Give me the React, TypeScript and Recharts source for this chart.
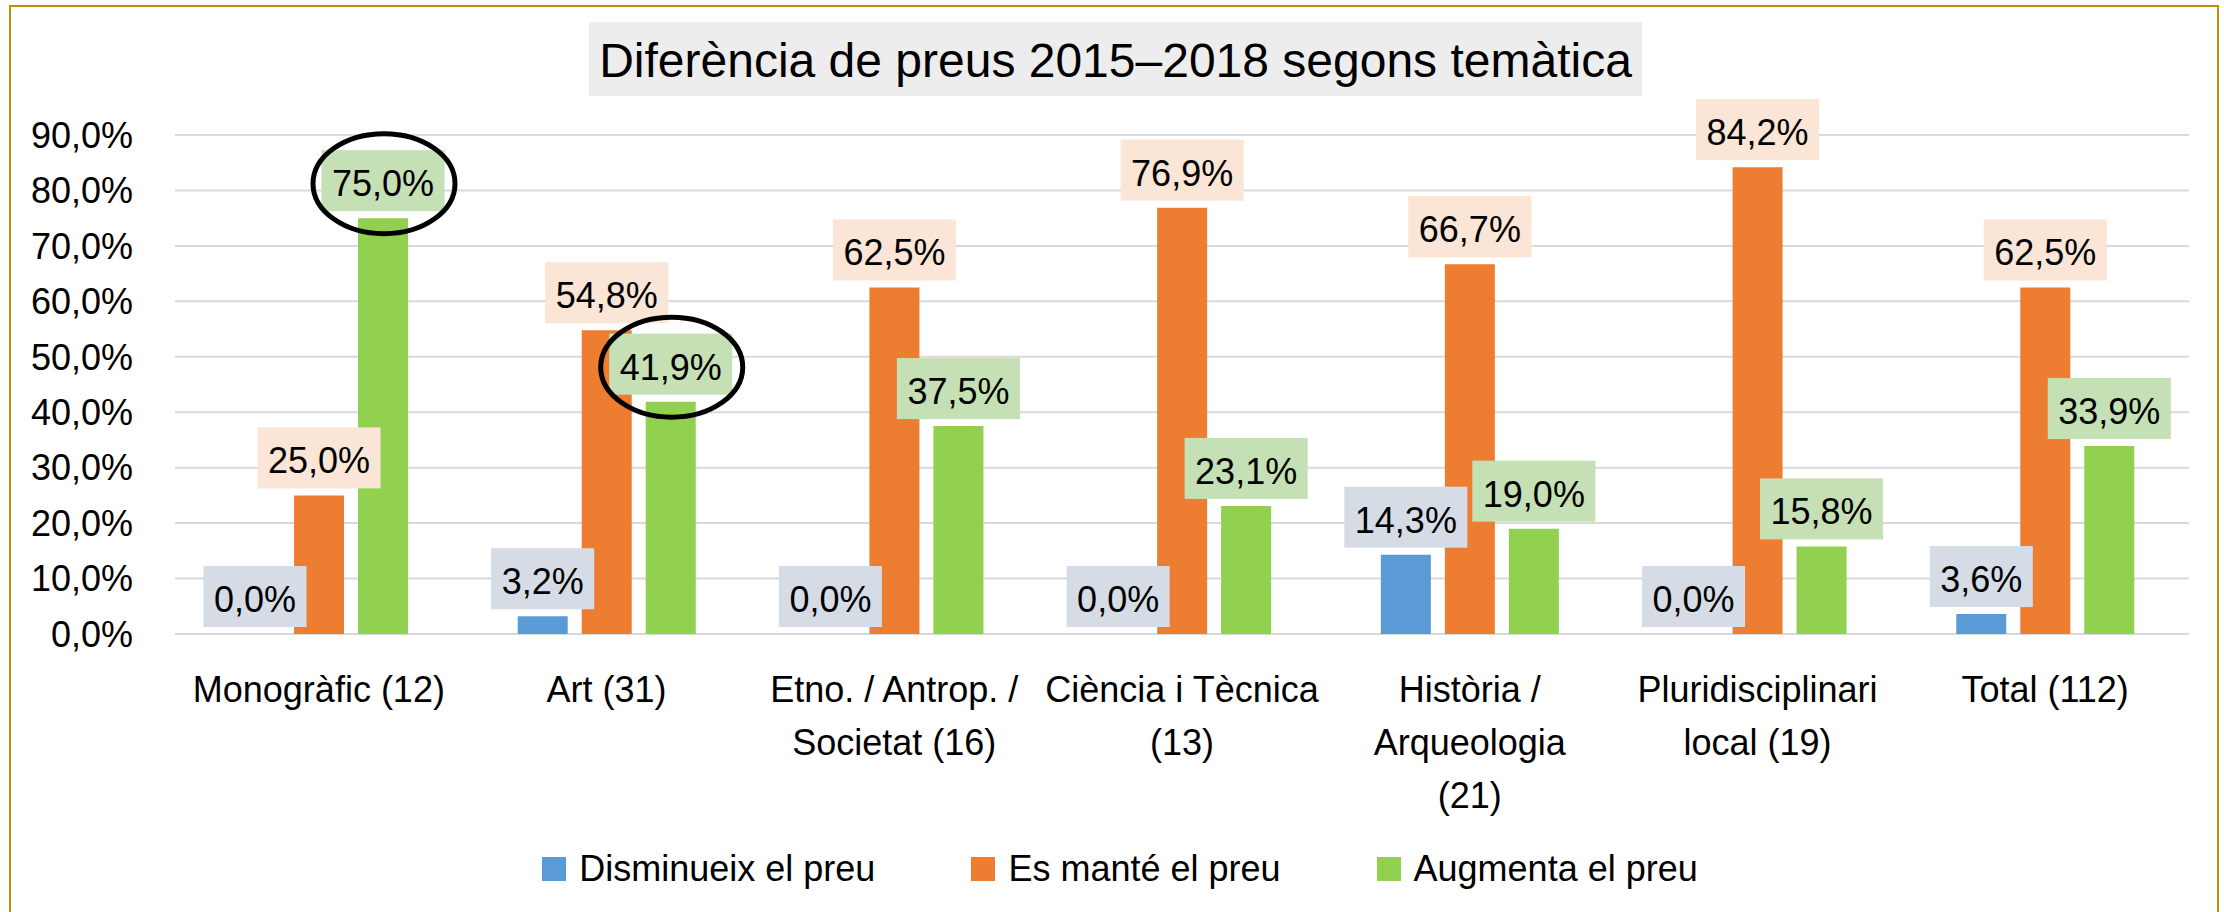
import { BarChart, Bar, XAxis, YAxis, CartesianGrid, Legend, LabelList } from 'recharts'

const FONT = '"Liberation Sans", Arial, sans-serif'

const categories = [
  'Monogràfic (12)',
  'Art (31)',
  'Etno. / Antrop. /\nSocietat (16)',
  'Ciència i Tècnica\n(13)',
  'Història /\nArqueologia\n(21)',
  'Pluridisciplinari\nlocal (19)',
  'Total (112)',
]
const decreases = [0, 3.2, 0, 0, 14.3, 0, 3.6]
const unchanged = [25.0, 54.8, 62.5, 76.9, 66.7, 84.2, 62.5]
const increases = [75.0, 41.9, 37.5, 23.1, 19.0, 15.8, 33.9]
const yTicks = [0, 10, 20, 30, 40, 50, 60, 70, 80, 90]
// labels circled by hand in the original (green series)
const highlighted = ['Monogràfic (12)', 'Art (31)']

const data = categories.map((name, i) => ({
  name,
  decreases: decreases[i],
  unchanged: unchanged[i],
  increases: increases[i],
}))

const series = [
  { key: 'decreases', name: 'Disminueix el preu', color: '#5B9BD5', labelBg: '#D6DCE5' },
  { key: 'unchanged', name: 'Es manté el preu', color: '#ED7D31', labelBg: '#FBE5D6' },
  { key: 'increases', name: 'Augmenta el preu', color: '#92D050', labelBg: '#C5E0B4' },
]

const pct = (v: number) => v.toFixed(1).replace('.', ',') + '%'

const charW: Record<string, number> = { ',': 0.278, '%': 0.889 }
const textWidth = (s: string, size: number) =>
  s.split('').reduce((w, c) => w + (charW[c] ?? 0.556), 0) * size

const CategoryTick = ({ x, y, payload }: any) => {
  const lines = String(payload.value).split('\n')
  return (
    <text x={x} y={y + 68} textAnchor="middle" fill="#000" fontSize={36} fontFamily={FONT}>
      {lines.map((l, i) => (
        <tspan key={i} x={x} dy={i === 0 ? 0 : 53}>{l}</tspan>
      ))}
    </text>
  )
}

const makeLabel = (seriesKey: string, bg: string) => (props: any) => {
  const vb = props.viewBox ?? props
  const value = Number(props.value)
  // zero bars get a 1px min height in the overlay, keep the label on the baseline
  const top = value === 0 ? Math.max(vb.y, vb.y + (vb.height || 0)) : Math.min(vb.y, vb.y + (vb.height || 0))
  const cx = vb.x + vb.width / 2
  const text = pct(value)
  const w = textWidth(text, 36) + 21
  const h = 61
  const bottom = top - 7
  const circled = seriesKey === 'increases' && highlighted.includes(categories[props.index])
  return (
    <g>
      <rect x={cx - w / 2} y={bottom - h} width={w} height={h} fill={bg} />
      <text x={cx} y={bottom - 15} textAnchor="middle" fill="#000" fontSize={36} fontFamily={FONT}>{text}</text>
      {circled && (
        <ellipse cx={cx + 1} cy={bottom - h / 2 + 3} rx={71} ry={50} fill="none" stroke="#000" strokeWidth={5} />
      )}
    </g>
  )
}

const LegendContent = () => (
  <div style={{ display: 'flex', justifyContent: 'center', gap: '96px', paddingLeft: '16px' }}>
    {series.map((s) => (
      <div key={s.key} style={{ display: 'flex', alignItems: 'center', gap: '13px', height: '36px' }}>
        <span style={{ display: 'inline-block', width: '24px', height: '24px', background: s.color }} />
        <span style={{ fontSize: '36px', lineHeight: '36px', color: '#000', fontFamily: FONT }}>{s.name}</span>
      </div>
    ))}
  </div>
)

// overlay=true draws only the data labels, so they sit above every bar like in Excel
function Chart({ overlay }: { overlay: boolean }) {
  return (
    <BarChart
      width={2224}
      height={912}
      data={data}
      margin={{ top: 135, right: 35, left: 0, bottom: 178 }}
      barSize={50}
      barGap={14}
    >
      {!overlay && <CartesianGrid vertical={false} stroke="#D9D9D9" strokeWidth={2} />}
      <XAxis
        dataKey="name"
        height={100}
        interval={0}
        tickSize={0}
        tickMargin={0}
        axisLine={false}
        tickLine={false}
        tick={overlay ? false : <CategoryTick />}
      />
      <YAxis
        width={175}
        domain={[0, 90]}
        ticks={yTicks}
        tickSize={0}
        tickMargin={42}
        axisLine={false}
        tickLine={false}
        tickFormatter={(v: number) => pct(v)}
        tick={overlay ? false : { fill: '#000', fontSize: 36, fontFamily: FONT }}
      />
      {series.map((s) => (
        <Bar
          key={s.key}
          dataKey={s.key}
          name={s.name}
          fill={overlay ? 'transparent' : s.color}
          minPointSize={overlay ? 1 : 0}
          isAnimationActive={false}
        >
          {overlay && <LabelList dataKey={s.key} content={makeLabel(s.key, s.labelBg)} />}
        </Bar>
      ))}
      {!overlay && (
        <Legend
          layout="horizontal"
          verticalAlign="middle"
          align="center"
          wrapperStyle={{ position: 'absolute', top: 851, left: 0, width: 2224 }}
          content={<LegendContent />}
        />
      )}
    </BarChart>
  )
}

export default function App() {
  return (
    <div style={{ position: 'absolute', left: 0, top: 0, width: '2224px', height: '912px', background: '#fff', overflow: 'hidden', fontFamily: FONT }}>
      <div style={{ position: 'absolute', left: '9px', top: '5px', width: '2210px', height: '930px', border: '2px solid #C09000', boxSizing: 'border-box' }} />
      <div
        style={{
          position: 'absolute', left: '589px', top: '22px', width: '1053px', height: '74px',
          background: '#EDEDED', fontSize: '48px', lineHeight: '78px', textAlign: 'center', color: '#000', whiteSpace: 'nowrap',
        }}
      >
        Diferència de preus 2015–2018 segons temàtica
      </div>
      <div style={{ position: 'absolute', left: 0, top: 0 }}>
        <Chart overlay={false} />
      </div>
      <div style={{ position: 'absolute', left: 0, top: 0, pointerEvents: 'none' }}>
        <Chart overlay={true} />
      </div>
    </div>
  )
}
